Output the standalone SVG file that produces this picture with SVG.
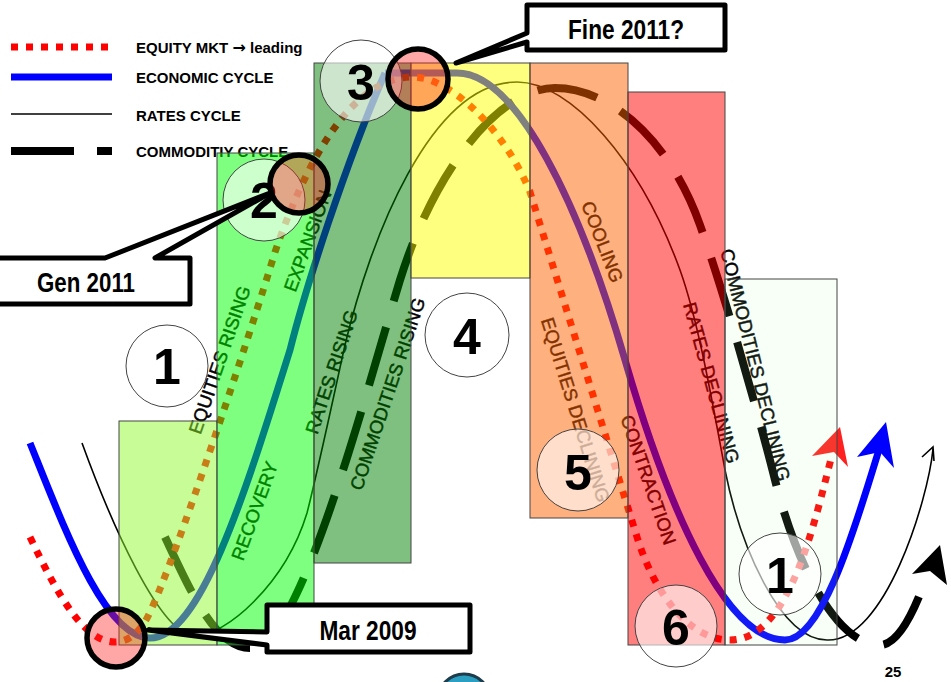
<svg xmlns="http://www.w3.org/2000/svg" width="951" height="682" viewBox="0 0 951 682">
<style>
.lbl{font-family:"Liberation Sans",Arial,sans-serif;font-size:18.5px;fill:#000;stroke:#000;stroke-width:0.45;text-anchor:middle}
.leg{font-family:"Liberation Sans",Arial,sans-serif;font-size:15px;font-weight:bold;fill:#000}
.num{font-family:"Liberation Sans",Arial,sans-serif;font-size:50px;font-weight:bold;fill:#000;text-anchor:middle}
.call{font-family:"Liberation Sans Narrow","Liberation Sans",Arial,sans-serif;font-size:28px;font-weight:bold;fill:#000;text-anchor:middle}
.zone{fill-opacity:0.5;stroke:#444;stroke-width:1}
.ncirc{fill:#fff;fill-opacity:0.6;stroke:#444;stroke-width:1}
.hl{fill:#ff2020;fill-opacity:0.4;stroke:#000;stroke-width:5.5}
.box{fill:#fff;stroke:#000;stroke-width:5;stroke-linejoin:round}
.eq{fill:none;stroke:#ff0000;stroke-width:7;stroke-dasharray:7 8}
.eco{fill:none;stroke:#0000ff;stroke-width:7}
.rates{fill:none;stroke:#000;stroke-width:1.6}
.comm{fill:none;stroke:#000;stroke-width:8;stroke-dasharray:61 27}
</style>

<g id="legend">
  <line x1="11" y1="47" x2="112" y2="47" class="eq"/>
  <line x1="11" y1="77" x2="112" y2="77" class="eco"/>
  <line x1="11" y1="114" x2="112" y2="114" class="rates" stroke-width="2"/>
  <line x1="11" y1="151" x2="74" y2="151" stroke="#000" stroke-width="8"/>
  <line x1="97" y1="151" x2="112" y2="151" stroke="#000" stroke-width="8"/>
  <text class="leg" x="136" y="53">EQUITY MKT <tspan font-family="DejaVu Sans" font-size="16">→</tspan> leading</text>
  <text class="leg" x="136" y="83">ECONOMIC CYCLE</text>
  <text class="leg" x="136" y="121">RATES CYCLE</text>
  <text class="leg" x="136" y="157">COMMODITIY CYCLE</text>
</g>

<g id="connectors">
  <path id="rates-cycle" class="rates" d="M82,443 C110,520 160,636 195,636 C225,636 285,585 307,513 C318,470 335,390 345,345 C370,240 430,82 517,82 C570,82 640,160 680,270 C698,320 712,400 725,470 C740,545 780,640 827,640 C885,642 928,500 933,449"/>
  <polyline class="rates" points="922,457 933,447 934,461"/>
  <path id="commodity-cycle-a" class="comm" stroke-dasharray="61 27 20 400" d="M165,537 C190,590 215,648 250,648"/>
  <path id="commodity-cycle-b" class="comm" stroke-dashoffset="28" d="M289.6,607.7 C330.6,530.1 373.75,366.25 400,280 C435,168 500,88 555,88 C610,88 670,140 700,225 C725,295 760,420 775,480 C795,560 835,645 880,645 C898,645 915,610 926,578"/>
  <polygon points="940,545 947,585 930,571 912,574" fill="#000"/>
  <path id="economic-cycle" class="eco" d="M30,443 C65,530 105,638 150,638 C200,638 244,497 290,350 C305,290 345,165 385,73 M385,73 C400,73 420,73 457,73 C517,73 580,205 625,360 C670,515 727,640 785,640 C825,640 860,510 882,440"/>
  <polygon points="886,422 894,468 880,452 857,457" fill="#0000ff"/>
  <path id="equity-mkt" class="eq" d="M30,537 C60,600 85,642 115,642 C130,642 142,630 150,612 C175,560 250,335 275,252 C305,165 350,77 413,77 C450,77 505,130 530,192 L637,537 C655,595 690,640 730,640 C790,640 815,520 832,455"/>
  <polygon points="840,427 848,467 834,452 812,456" fill="#ff2020"/>
</g>

<g id="labels">
  <text class="lbl" transform="translate(220,360) rotate(-71)" y="6">EQUITIES RISING</text>
  <text class="lbl" transform="translate(308,241) rotate(-70)" y="6">EXPANSION</text>
  <text class="lbl" transform="translate(255,511) rotate(-70)" y="6">RECOVERY</text>
  <text class="lbl" transform="translate(332,372) rotate(-71.5)" y="6">RATES RISING</text>
  <text class="lbl" transform="translate(388,394) rotate(-71.5)" y="6">COMMODITIES RISING</text>
  <text class="lbl" transform="translate(602,242) rotate(69)" y="6">COOLING</text>
  <text class="lbl" transform="translate(575,410) rotate(72.7)" y="6">EQUITIES DECLINING</text>
  <text class="lbl" transform="translate(648,480) rotate(71)" y="6">CONTRACTION</text>
  <text class="lbl" transform="translate(711,383) rotate(74.5)" y="6">RATES DECLINING</text>
  <text class="lbl" transform="translate(755,365) rotate(76)" y="6">COMMODITIES DECLINING</text>
</g>

<g id="zones">
  <rect id="zone-recovery" class="zone" x="119" y="421" width="98" height="224" fill="#91f92d"/>
  <rect id="zone-expansion-a" class="zone" x="217" y="153" width="97" height="492" fill="#00ff00"/>
  <rect id="zone-expansion-b" class="zone" x="314" y="63" width="97" height="500" fill="#008000"/>
  <rect id="zone-peak" class="zone" x="411" y="63" width="119" height="215" fill="#ffff00"/>
  <rect id="zone-cooling" class="zone" x="530" y="63" width="98" height="455" fill="#ff6100"/>
  <rect id="zone-contraction" class="zone" x="628" y="92" width="97" height="553" fill="#ff0000"/>
  <rect id="zone-trough" x="725" y="279" width="112" height="366" fill="#b0ffb0" fill-opacity="0.1" stroke="#444" stroke-width="1"/>
</g>

<g id="phase-1a"><circle class="ncirc" cx="167" cy="366" r="41"/><text class="num" x="167" y="384">1</text></g>
<g id="phase-2"><circle class="ncirc" cx="264" cy="200" r="41"/><text class="num" x="264" y="218">2</text></g>
<g id="phase-3"><circle class="ncirc" cx="361" cy="81" r="41"/><text class="num" x="361" y="100">3</text></g>
<g id="phase-4"><circle class="ncirc" cx="467" cy="335" r="42"/><text class="num" x="467" y="354">4</text></g>
<g id="phase-5"><circle class="ncirc" cx="578" cy="470" r="41"/><text class="num" x="578" y="490">5</text></g>
<g id="phase-6"><circle class="ncirc" cx="676" cy="626" r="41"/><text class="num" x="676" y="645">6</text></g>
<g id="phase-1b"><circle class="ncirc" cx="780" cy="574" r="41"/><text class="num" x="780" y="593">1</text></g>

<g id="mark-mar2009"><circle class="hl" cx="116" cy="638" r="29"/></g>
<g id="mark-gen2011"><circle class="hl" cx="299" cy="184" r="29"/></g>
<g id="mark-fine2011"><circle class="hl" cx="418" cy="79" r="30"/></g>

<g id="callout-fine2011">
  <path class="box" d="M527,5 H725 V50 H527 V42 L456,63 L527,33 Z"/>
  <text class="call" x="626" y="39" textLength="116" lengthAdjust="spacingAndGlyphs">Fine 2011?</text>
</g>
<g id="callout-gen2011">
  <path class="box" d="M-5,258 H105 L270,193 L155,258 H190 V304 H-5 Z"/>
  <text class="call" x="86" y="292" textLength="98" lengthAdjust="spacingAndGlyphs">Gen 2011</text>
</g>
<g id="callout-mar2009">
  <path class="box" d="M267,605 H470 V652 H267 V645 L148,630 L267,632 Z"/>
  <text class="call" x="368" y="640" textLength="97" lengthAdjust="spacingAndGlyphs">Mar 2009</text>
</g>

<g id="footer">
  <circle cx="464" cy="700" r="26" fill="#2b9fc2" stroke="#1d3d4d" stroke-width="3"/>
  <text class="leg" x="893" y="677" text-anchor="middle">25</text>
</g>
</svg>
